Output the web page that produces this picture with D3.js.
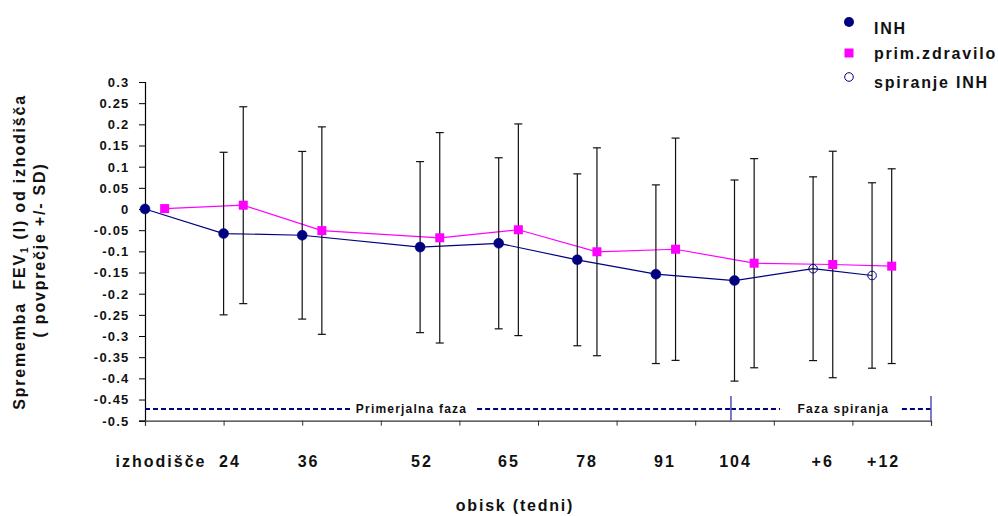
<!DOCTYPE html>
<html><head><meta charset="utf-8">
<script src="https://cdn.jsdelivr.net/npm/d3@7"></script>
<style>
html,body{margin:0;padding:0;background:#fff;}
svg text{font-family:"Liberation Sans",Arial,sans-serif;font-weight:bold;fill:#111;white-space:pre;}
</style></head>
<body>
<svg id="chart" width="998" height="516"></svg>
<script>
// ---- data ----
const visits = ["izhodišče","24","36","52","65","78","91","104","+6","+12"];
const visitSlot = [0,1,2,3.5,4.5,5.5,6.5,7.5,8.5,9.25];
const inhMean = [0,-0.058,-0.062,-0.09,-0.081,-0.12,-0.154,-0.169,-0.141,-0.157];
const inhSD   = [0,0.192,0.198,0.202,0.202,0.203,0.211,0.2375,0.217,0.219];
const washout = [false,false,false,false,false,false,false,false,true,true];
const primMean = [0.001,0.009,-0.051,-0.068,-0.049,-0.101,-0.095,-0.128,-0.131,-0.135];
const primSD   = [0,0.2325,0.245,0.2485,0.25,0.2455,0.2625,0.247,0.2675,0.23];
const yTicks = d3.range(-0.5,0.3001,0.05).map(v=>+v.toFixed(2));
const legendLabels = ["INH","prim.zdravilo","spiranje INH"];
const phaseLabels = ["Primerjalna faza","Faza spiranja"];

// ---- layout ----
const primOffset = 0.25;
const labelSlot = [0.191,1.069,2.068,3.511,4.618,5.611,6.603,7.501,8.609,9.385];
const navy = "#000080", magenta = "#ff00ff";

const svg = d3.select("#chart");
const x = d3.scaleLinear().domain([0,10]).range([145,931]);
const y = d3.scaleLinear().domain([-0.5,0.3]).range([420.7,82]);

// axes
const yAxis = d3.axisLeft(y).tickValues(yTicks).tickSize(6).tickFormat(d=>String(+d.toFixed(2)));
const gy = svg.append("g").attr("transform",`translate(${x(0)},0)`).call(yAxis);
gy.select(".domain").attr("stroke","#000").attr("stroke-width",1.2);
gy.selectAll(".tick line").attr("stroke","#000");
gy.selectAll(".tick text").attr("x",-15.5).attr("dy","0.34em")
  .style("font-size","13px").style("letter-spacing","1.2px").attr("fill","#111");

const xAxis = d3.axisBottom(x).tickValues(d3.range(0,11)).tickSize(5).tickFormat("");
const gx = svg.append("g").attr("transform",`translate(0,${y(-0.5)})`).call(xAxis);
gx.select(".domain").attr("stroke","#333").attr("stroke-width",1.2);
gx.selectAll(".tick line").attr("stroke","#333");

// category labels
svg.append("g").selectAll("text").data(visits).join("text")
  .attr("x",(d,i)=>x(labelSlot[i])+1).attr("y",467)
  .attr("text-anchor","middle").style("font-size","16px").style("letter-spacing","2px")
  .text(d=>d);

// axis titles
svg.append("text").attr("x",515).attr("y",511).attr("text-anchor","middle")
  .style("font-size","16px").style("letter-spacing","1.8px").text("obisk (tedni)");
const yt = svg.append("text").attr("transform","translate(25,252) rotate(-90)")
  .attr("text-anchor","middle").style("font-size","16px").style("letter-spacing","1.8px");
yt.append("tspan").text("Sprememba  FEV");
yt.append("tspan").attr("dy",3).style("font-size","10px").text("1");
yt.append("tspan").attr("dy",-3).text(" (l) od izhodišča");
svg.append("text").attr("transform","translate(45,250) rotate(-90)")
  .attr("text-anchor","middle").style("font-size","16px").style("letter-spacing","1.8px")
  .text("( povprečje +/- SD)");

// phase annotation
const phaseY = y(-0.4725);
const dashSegs = [[0,2.608],[4.225,7.455],[7.455,8.08],[9.63,10]];
svg.append("g").selectAll("line").data(dashSegs).join("line")
  .attr("x1",d=>x(d[0])).attr("x2",d=>x(d[1])).attr("y1",phaseY).attr("y2",phaseY)
  .attr("stroke",navy).attr("stroke-width",2).attr("stroke-dasharray","5,3");
svg.append("g").selectAll("line").data([7.455,10]).join("line")
  .attr("x1",d=>x(d)).attr("x2",d=>x(d)).attr("y1",396).attr("y2",y(-0.5))
  .attr("stroke","#5050b8").attr("stroke-width",1.5);
svg.append("g").selectAll("text").data(phaseLabels).join("text")
  .attr("x",(d,i)=>i===0?x(3.39):x(8.885)).attr("y",413).attr("text-anchor","middle")
  .style("font-size","12px").style("letter-spacing","1.2px").text(d=>d);

// lines
const inhPts = visits.map((v,i)=>({s:visitSlot[i],m:inhMean[i],sd:inhSD[i],w:washout[i]}));
const primPts = visits.map((v,i)=>({s:visitSlot[i]+primOffset,m:primMean[i],sd:primSD[i]}));
const line = d3.line().x(d=>x(d.s)).y(d=>y(d.m));
svg.append("path").datum(primPts).attr("d",line).attr("fill","none").attr("stroke",magenta).attr("stroke-width",1.2);
svg.append("path").datum(inhPts).attr("d",line).attr("fill","none").attr("stroke",navy).attr("stroke-width",1.2);

// error bars
const allPts = inhPts.concat(primPts).filter(d=>d.sd>0);
const eb = svg.append("g").attr("stroke","#111").attr("stroke-width",1.2);
allPts.forEach(d=>{
  const cx = x(d.s), t = y(d.m+d.sd), b = y(d.m-d.sd);
  eb.append("line").attr("x1",cx).attr("x2",cx).attr("y1",t).attr("y2",b);
  eb.append("line").attr("x1",cx-4).attr("x2",cx+4).attr("y1",t).attr("y2",t);
  eb.append("line").attr("x1",cx-4).attr("x2",cx+4).attr("y1",b).attr("y2",b);
});

// markers
svg.append("g").selectAll("rect").data(primPts).join("rect")
  .attr("x",d=>x(d.s)-4.5).attr("y",d=>y(d.m)-4.5).attr("width",9).attr("height",9).attr("fill",magenta);
svg.append("g").selectAll("circle").data(inhPts).join("circle")
  .attr("cx",d=>x(d.s)).attr("cy",d=>y(d.m)).attr("r",d=>d.w?4.3:5)
  .attr("fill",d=>d.w?"none":navy).attr("stroke",navy).attr("stroke-width",d=>d.w?1:0.5);

// legend
const lgY = [22,53,77], lgBase = [34,59,88];
const lg = svg.append("g");
lg.append("circle").attr("cx",849).attr("cy",lgY[0]).attr("r",5).attr("fill",navy);
lg.append("rect").attr("x",844.5).attr("y",lgY[1]-4.5).attr("width",9).attr("height",9).attr("fill",magenta);
lg.append("circle").attr("cx",849).attr("cy",lgY[2]).attr("r",4.3).attr("fill","none").attr("stroke",navy).attr("stroke-width",1);
lg.selectAll("text").data(legendLabels).join("text")
  .attr("x",874).attr("y",(d,i)=>lgBase[i]).style("font-size","16px").style("letter-spacing","1.8px").text(d=>d);
</script>
</body></html>
